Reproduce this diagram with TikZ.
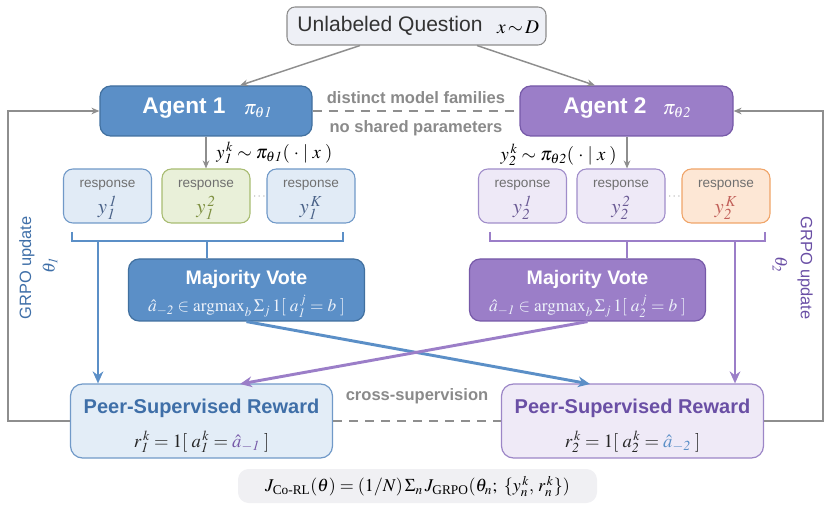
\documentclass[tikz,border=0pt]{standalone}
\usepackage{amsmath}
\usepackage{mathptmx}
\usepackage{fontspec}
\setmainfont{Liberation Serif}
\setsansfont{Liberation Sans}
\usetikzlibrary{arrows.meta,calc}
\definecolor{qfill}{HTML}{EEF0F6}
\definecolor{qdraw}{HTML}{8C8C8C}
\definecolor{aonefill}{HTML}{5B8FC7}
\definecolor{aonedraw}{HTML}{41709F}
\definecolor{atwofill}{HTML}{9B7EC8}
\definecolor{atwodraw}{HTML}{7659A8}
\definecolor{lgray}{HTML}{8E8E8E}
\definecolor{tgray}{HTML}{8A8A8A}
\definecolor{ronefill}{HTML}{E1EBF6}
\definecolor{ronedraw}{HTML}{7099C8}
\definecolor{ronetxt}{HTML}{4A6288}
\definecolor{gfill}{HTML}{E9F0D9}
\definecolor{gdraw}{HTML}{A8BC72}
\definecolor{gtxt}{HTML}{7E9040}
\definecolor{rtwofill}{HTML}{EEE9F7}
\definecolor{rtwodraw}{HTML}{A08DCA}
\definecolor{rtwotxt}{HTML}{6B5B95}
\definecolor{ofill}{HTML}{FDE7D5}
\definecolor{odraw}{HTML}{F0A468}
\definecolor{otxt}{HTML}{C2615A}
\definecolor{ponefill}{HTML}{E3EDF7}
\definecolor{ptwofill}{HTML}{EFEAF7}
\definecolor{ptwodraw}{HTML}{9C86C7}
\definecolor{ponetitle}{HTML}{3F6FA8}
\definecolor{ptwotitle}{HTML}{6A4FA5}
\definecolor{botfill}{HTML}{F0F0F3}
\definecolor{resptxt}{HTML}{707070}
\definecolor{mvform}{HTML}{EDF2FA}
\tikzset{
  base/.style={rounded corners=6pt, inner sep=0pt, line width=0.8pt},
  qbox/.style={base, draw=qdraw, fill=qfill},
  agentbox/.style={base, rounded corners=8pt, line width=0.9pt},
  respbox/.style={base, rounded corners=7pt, line width=0.8pt, minimum width=88*0.75pt, minimum height=54*0.75pt},
  mvbox/.style={base, rounded corners=8pt, line width=0.9pt, minimum width=236*0.75pt, minimum height=62*0.75pt},
  peerbox/.style={base, rounded corners=9pt, line width=0.9pt, minimum width=262*0.75pt, minimum height=74*0.75pt},
  txt/.style={inner sep=0pt},
  graylbl/.style={txt, text=tgray, font=\sffamily\bfseries\fontsize{12.4}{14}\selectfont},
  resplbl/.style={txt, text=resptxt, font=\sffamily\fontsize{10.2}{12}\selectfont},
  ylbl/.style={txt, font=\fontsize{15.5}{17}\selectfont},
  gline/.style={draw=lgray, line width=1.1pt},
  garrow/.style={gline, -{Stealth[length=6pt,width=5pt]}},
  bthick/.style={draw=aonefill, line width=2.2pt},
  pthick/.style={draw=atwofill, line width=2.2pt},
  barrow/.style={bthick, -{Stealth[length=9pt,width=8pt]}},
  parrow/.style={pthick, -{Stealth[length=9pt,width=8pt]}},
}
\begin{document}
\begin{tikzpicture}[x=0.75pt,y=-0.75pt]
\useasboundingbox (0,0) rectangle (829,506);

% question
\node[qbox, minimum width=259*0.75pt, minimum height=38*0.75pt] (Q) at (416.5,26) {};
\node[txt, text=black!80, font=\sffamily\fontsize{15.8}{18}\selectfont] (Qt) at (390,26) {Unlabeled Question};
\node[txt, font=\fontsize{14.5}{16}\selectfont] (Qm) at (518,27) {$x\,{\sim}\,D$};

% agents
\node[agentbox, draw=aonedraw, fill=aonefill, minimum width=212*0.75pt, minimum height=50*0.75pt] (A1) at (206,111) {};
\node[txt, text=white, font=\sffamily\bfseries\fontsize{17}{20}\selectfont] (A1t) at (184,108) {Agent 1};
\node[txt, text=white, font=\fontsize{15}{17}\selectfont] (A1m) at (258,111) {$\pi_{\theta\mathit{1}}$};
\node[agentbox, draw=atwodraw, fill=atwofill, minimum width=213*0.75pt, minimum height=50*0.75pt] (A2) at (626.5,111) {};
\node[txt, text=white, font=\sffamily\bfseries\fontsize{17}{20}\selectfont] (A2t) at (605,108) {Agent 2};
\node[txt, text=white, font=\fontsize{15}{17}\selectfont] (A2m) at (677,111) {$\pi_{\theta\mathit{2}}$};

\draw[garrow] (Q.south -| 360,0) -- (A1.north -| 240,0);
\draw[garrow] (Q.south -| 477,0) -- (A2.north -| 595,0);

\draw[gline, dashed, dash pattern=on 7pt off 5pt] (A1.east) -- (A2.west);
\node[graylbl] (fam) at (416,98) {distinct model families};
\node[graylbl] (par) at (416,128) {no shared parameters};

% response boxes agent 1
\node[respbox, draw=ronedraw, fill=ronefill] (R11) at (107.5,196) {};
\node[respbox, draw=gdraw, fill=gfill] (R12) at (206,196) {};
\node[respbox, draw=ronedraw, fill=ronefill] (R13) at (311,196) {};
\node[resplbl] (R11a) at (107.5,185) {response};
\node[resplbl] (R12a) at (206,185) {response};
\node[resplbl] (R13a) at (311,185) {response};
\node[ylbl, text=ronetxt] (R11b) at (107.5,208) {$y_{\mathit{1}}^{\,\mathit{1}}$};
\node[ylbl, text=gtxt] (R12b) at (206,208) {$y_{\mathit{1}}^{\,\mathit{2}}$};
\node[ylbl, text=ronetxt] (R13b) at (311,208) {$y_{\mathit{1}}^{\,K}$};
\node[txt, text=lgray!80, font=\fontsize{9}{9}\selectfont] (D1) at (260,197) {$\cdots$};

% response boxes agent 2
\node[respbox, draw=rtwodraw, fill=rtwofill] (R21) at (522.5,196) {};
\node[respbox, draw=rtwodraw, fill=rtwofill] (R22) at (621,196) {};
\node[respbox, draw=odraw, fill=ofill] (R23) at (726,196) {};
\node[resplbl] (R21a) at (522.5,185) {response};
\node[resplbl] (R22a) at (621,185) {response};
\node[resplbl] (R23a) at (726,185) {response};
\node[ylbl, text=rtwotxt] (R21b) at (522.5,208) {$y_{\mathit{2}}^{\,\mathit{1}}$};
\node[ylbl, text=rtwotxt] (R22b) at (621,208) {$y_{\mathit{2}}^{\,\mathit{2}}$};
\node[ylbl, text=otxt] (R23b) at (726,208) {$y_{\mathit{2}}^{\,K}$};
\node[txt, text=lgray!80, font=\fontsize{9}{9}\selectfont] (D2) at (675,197) {$\cdots$};

% sampling arrows
\draw[garrow] (A1.south -| R12.north) -- (R12.north);
\draw[garrow] (A2.south -| 627,0) -- (R22.north -| 627,0);
\node[txt, anchor=west, font=\fontsize{14}{16}\selectfont] (S1) at (216,153) {$y_{\mathit{1}}^{\,k}\sim\pi_{\theta\mathit{1}}(\;\cdot\;|\;x\;)$};
\node[txt, anchor=east, font=\fontsize{14}{16}\selectfont] (S2) at (617,155) {$y_{\mathit{2}}^{\,k}\sim\pi_{\theta\mathit{2}}(\;\cdot\;|\;x\;)$};

% majority vote
\node[mvbox, draw=aonedraw, fill=aonefill] (MV1) at (246.5,290) {};
\node[txt, text=white, font=\sffamily\bfseries\fontsize{14.7}{17}\selectfont] (MV1t) at (246.5,279) {Majority Vote};
\node[txt, text=mvform, font=\fontsize{13}{15}\selectfont] (MV1f) at (246.5,306) {$\hat a_{-\mathit{2}}\in\mathrm{argmax}_b\,\Sigma_j\,1[\;a_{\mathit{1}}^{\,j}=b\;]$};
\node[mvbox, draw=atwodraw, fill=atwofill] (MV2) at (587.5,290) {};
\node[txt, text=white, font=\sffamily\bfseries\fontsize{14.7}{17}\selectfont] (MV2t) at (587.5,279) {Majority Vote};
\node[txt, text=mvform, font=\fontsize{13}{15}\selectfont] (MV2f) at (587.5,306) {$\hat a_{-\mathit{1}}\in\mathrm{argmax}_b\,\Sigma_j\,1[\;a_{\mathit{2}}^{\,j}=b\;]$};

% brackets
\coordinate (b1l) at (72,232);
\coordinate (b1L) at (72,241);
\coordinate (b1R) at (343,241);
\coordinate (b1r) at (343,232);
\coordinate (b1m) at (207,241);
\coordinate (b1a) at (98,241);
\draw[bthick] (b1l) -- (b1L) -- (b1R) -- (b1r);
\draw[bthick] (b1m) -- (b1m |- MV1.north);
\coordinate (b2l) at (490,232);
\coordinate (b2L) at (490,241);
\coordinate (b2R) at (765,241);
\coordinate (b2r) at (765,232);
\coordinate (b2m) at (627,241);
\coordinate (b2a) at (735,241);
\draw[pthick] (b2l) -- (b2L) -- (b2R) -- (b2r);
\draw[pthick] (b2m) -- (b2m |- MV2.north);

% peer boxes
\node[peerbox, draw=ronedraw, fill=ponefill] (P1) at (201.5,421) {};
\node[txt, text=ponetitle, font=\sffamily\bfseries\fontsize{15}{17}\selectfont] (P1t) at (201.5,408) {Peer-Supervised Reward};
\node[txt, text=black!85, font=\fontsize{14}{16}\selectfont] (P1f) at (201.5,442) {$r_{\mathit{1}}^{\,k}=1[\;a_{\mathit{1}}^{\,k}=\textcolor{atwodraw}{\hat a_{-\mathit{1}}}\;]$};
\node[peerbox, draw=ptwodraw, fill=ptwofill] (P2) at (632.5,421) {};
\node[txt, text=ptwotitle, font=\sffamily\bfseries\fontsize{15}{17}\selectfont] (P2t) at (632.5,408) {Peer-Supervised Reward};
\node[txt, text=black!85, font=\fontsize{14}{16}\selectfont] (P2f) at (632.5,442) {$r_{\mathit{2}}^{\,k}=1[\;a_{\mathit{2}}^{\,k}=\textcolor{aonefill}{\hat a_{-\mathit{2}}}\;]$};

% arrows to peer boxes
\draw[barrow] (b1a) -- (b1a |- P1.north);
\draw[parrow] (b2a) -- (b2a |- P2.north);
\coordinate (p1in) at (240,384);
\coordinate (p2in) at (590,384);
\draw[barrow] (MV1.south) -- (p2in);
\draw[parrow] (MV2.south) -- (p1in);

% cross supervision
\draw[gline, dashed, dash pattern=on 7pt off 5pt] (P1.east) -- (P2.west);
\node[graylbl] (cs) at (417,396) {cross-supervision};

% feedback loops
\coordinate (lx) at (8,300);
\coordinate (rx) at (823,300);
\draw[garrow] (P1.west) -| (lx) |- (A1.west);
\draw[garrow] (P2.east) -| (rx) |- (A2.east);
\node[txt, rotate=90, text=ponetitle, font=\sffamily\fontsize{12.3}{14}\selectfont] (G1) at (27,268) {GRPO update};
\node[txt, rotate=90, text=ponetitle, font=\fontsize{13}{15}\selectfont] (G1m) at (50,265) {$\theta_{\mathit{1}}$};
\node[txt, rotate=-90, text=ptwotitle, font=\sffamily\fontsize{12.3}{14}\selectfont] (G2) at (805,268) {GRPO update};
\node[txt, rotate=-90, text=ptwotitle, font=\fontsize{13}{15}\selectfont] (G2m) at (780,265) {$\theta_{\mathit{2}}$};

% objective
\node[base, rounded corners=8pt, fill=botfill, minimum width=359*0.75pt, minimum height=34*0.75pt] (J) at (417.5,486) {};
\node[txt, font=\fontsize{13.5}{16}\selectfont] (Jf) at (417.5,486) {$J_{\text{Co-RL}}(\theta)=(1/N)\,\Sigma_n\,J_{\text{GRPO}}(\theta_n;\ \{y_n^{\,k},\,r_n^{\,k}\})$};
\end{tikzpicture}
\end{document}
